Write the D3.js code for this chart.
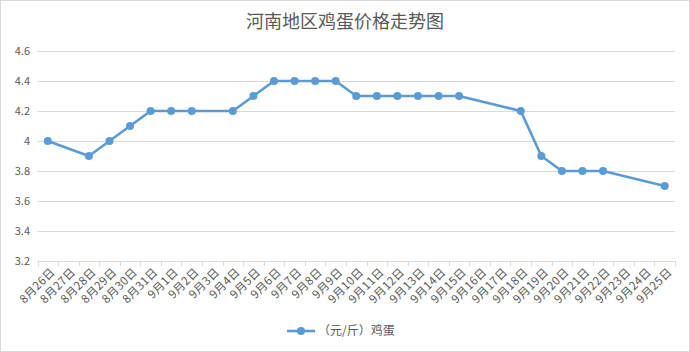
<!DOCTYPE html>
<html><head><meta charset="utf-8">
<script src="https://cdn.jsdelivr.net/npm/d3@7"></script>
<style>body{margin:0;background:#fff}svg{display:block}</style>
</head><body>
<svg id="c" width="690" height="352"></svg>
<script>
const categories = ["8月26日","8月27日","8月28日","8月29日","8月30日","8月31日","9月1日","9月2日","9月3日","9月4日","9月5日","9月6日","9月7日","9月8日","9月9日","9月10日","9月11日","9月12日","9月13日","9月14日","9月15日","9月16日","9月17日","9月18日","9月19日","9月20日","9月21日","9月22日","9月23日","9月24日","9月25日"];
const eggPrices = [4.0,null,3.9,4.0,4.1,4.2,4.2,4.2,null,4.2,4.3,4.4,4.4,4.4,4.4,4.3,4.3,4.3,4.3,4.3,4.3,null,null,4.2,3.9,3.8,3.8,3.8,null,null,3.7];
const yTicks = [3.2,3.4,3.6,3.8,4,4.2,4.4,4.6];
const seriesName = "（元/斤）鸡蛋";
const title = "河南地区鸡蛋价格走势图";

const svg = d3.select("#c");
const W = 690, H = 352;
const font = "'Noto Sans CJK SC','Microsoft YaHei',sans-serif";
const color = "#5B9BD5", grid = "#d9d9d9", txt = "#595959";

svg.append("rect").attr("x",0.5).attr("y",0.5).attr("width",W-1).attr("height",H-1)
  .attr("fill","#fff").attr("stroke",grid);

const x = d3.scaleBand().domain(categories).range([37.5, 675]).padding(0);
const y = d3.scaleLinear().domain([3.2, 4.6]).range([261, 51]);

// gridlines
svg.append("g").selectAll("line").data(yTicks.slice(1)).join("line")
  .attr("x1",37.5).attr("x2",675).attr("y1",d=>Math.round(y(d))+0.5).attr("y2",d=>Math.round(y(d))+0.5)
  .attr("stroke",grid).attr("stroke-width",1);

// y labels
svg.append("g").selectAll("text").data(yTicks).join("text")
  .attr("x",30).attr("y",d=>y(d)).attr("dy","0.35em").attr("text-anchor","end")
  .attr("font-family",font).attr("font-size",11).attr("fill",txt)
  .text(d=>d3.format("")(d));

// x axis line and ticks
const ax = svg.append("g");
ax.append("line").attr("x1",37.5).attr("x2",675).attr("y1",261.5).attr("y2",261.5).attr("stroke",grid);
const edges = categories.map(c=>x(c)).concat([x.range()[1]]);
ax.selectAll("line.t").data(edges).join("line").attr("class","t")
  .attr("x1",d=>Math.round(d)+0.5).attr("x2",d=>Math.round(d)+0.5).attr("y1",261).attr("y2",266)
  .attr("stroke",grid);

// x labels
svg.append("g").selectAll("text").data(categories).join("text")
  .attr("transform",d=>`translate(${x(d)+x.bandwidth()/2+5},${270}) rotate(-45)`)
  .attr("text-anchor","end").attr("dy","0.35em")
  .attr("font-family",font).attr("font-size",11.5).attr("letter-spacing",0.4).attr("fill",txt)
  .text(d=>d);

// line
const pts = categories.map((c,i)=>({c, v:eggPrices[i]})).filter(d=>d.v!=null);
const line = d3.line().x(d=>x(d.c)+x.bandwidth()/2).y(d=>y(d.v));
svg.append("path").datum(pts).attr("d",line).attr("fill","none")
  .attr("stroke",color).attr("stroke-width",2.6).attr("stroke-linejoin","round").attr("stroke-linecap","round");
svg.append("g").selectAll("circle").data(pts).join("circle")
  .attr("cx",d=>x(d.c)+x.bandwidth()/2).attr("cy",d=>y(d.v)).attr("r",4).attr("fill",color);

// title
svg.append("text").attr("x",W/2).attr("y",22).attr("dy","0.35em").attr("text-anchor","middle")
  .attr("font-family",font).attr("font-size",18).attr("fill",txt).text(title);

// legend
const lg = svg.append("g");
lg.append("line").attr("x1",287).attr("x2",315).attr("y1",331).attr("y2",331).attr("stroke",color).attr("stroke-width",2.6);
lg.append("circle").attr("cx",301).attr("cy",331).attr("r",4).attr("fill",color);
lg.append("text").attr("x",318).attr("y",331).attr("dy","0.35em")
  .attr("font-family",font).attr("font-size",12).attr("fill",txt).text(seriesName);
</script>
</body></html>
